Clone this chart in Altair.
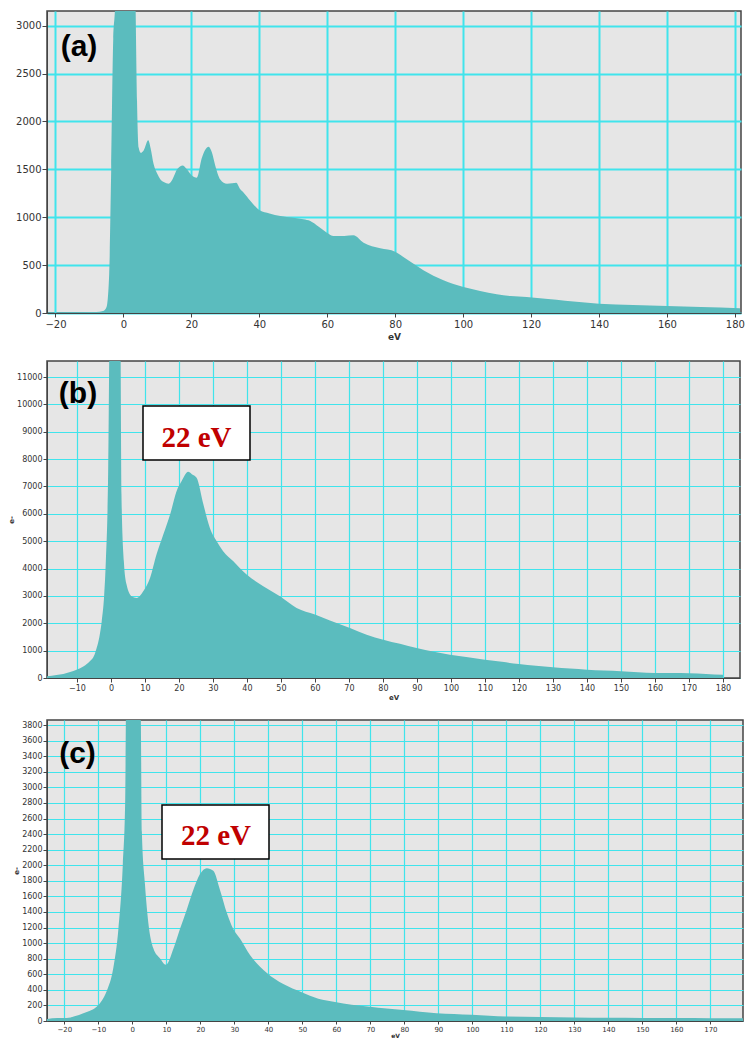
import altair as alt
import pandas as pd

# ---- spectrum (a) ----
ev_a = [-22.5, -16, -12, -8, -6, -5, -4.2, -3.6, -3.0, -2.6, -2.1, 0.5, 3.5, 4.0, 4.5, 5.1,
        6.0, 7.3, 8.0, 8.9, 10.0, 10.9, 12.0, 13.3, 14.5, 15.8, 17.5, 18.7, 20.0, 21.6, 23.1,
        25.1, 26.0, 27.0, 28.5, 30.5, 32.0, 33.2, 34.4, 35.4, 37.4, 40.1, 43.0, 46.2, 50.0,
        53.0, 55.0, 57.5, 59.9, 61.9, 65.0, 67.7, 70.7, 75.6, 80.0, 83.4, 88.3, 94.2, 100.1,
        105.0, 109.9, 114.0, 118.7, 125.0, 130.0, 140.0, 150.0, 160.0, 170.0, 181.5]
counts_a = [0, 5, 8, 10, 20, 60, 400, 1500, 2860, 3100, 3400, 9000, 3400, 2213, 1726, 1673,
            1700, 1803, 1720, 1552, 1450, 1395, 1365, 1350, 1400, 1500, 1541, 1500, 1440, 1412,
            1621, 1736, 1680, 1543, 1395, 1350, 1355, 1360, 1291, 1256, 1169, 1072, 1040, 1013,
            995, 978, 960, 900, 838, 804, 805, 811, 734, 675, 640, 560, 446, 341, 271, 230, 195,
            178, 167, 145, 128, 97, 84, 73, 62, 49]

# ---- spectrum (b) ----
ev_b = [-18.8, -16, -14, -12, -10.1, -8, -6.2, -5, -4.2, -3.4, -2.7, -2.0, -1.5, -0.8, -0.5,
        1.2, 2.85, 3.1, 3.8, 4.6, 6.1, 7.6, 9.5, 11.5, 13.4, 15.4, 17.4, 19.3, 20.8, 22.7, 23.8,
        25.2, 27.2, 29.1, 31.1, 33.0, 36.0, 39.9, 44.8, 49.7, 54.6, 60.0, 64.4, 70.3, 75.2,
        80.1, 85.0, 89.9, 95.0, 99.7, 105, 110, 115, 120, 125, 130, 135, 140, 145, 150, 155,
        160, 165, 170, 175, 180]
counts_b = [62, 110, 150, 220, 305, 430, 610, 800, 1097, 1500, 2073, 3000, 4268, 7680, 11800,
            45000, 11800, 6705, 4268, 3414, 2987, 2926, 3170, 3658, 4511, 5241, 5973, 6829,
            7195, 7535, 7450, 7315, 6339, 5486, 5000, 4634, 4268, 3780, 3353, 2987, 2560, 2317,
            2097, 1829, 1585, 1402, 1250, 1097, 960, 853, 760, 670, 590, 512, 450, 390, 345,
            305, 270, 244, 210, 183, 180, 175, 150, 122]

# ---- spectrum (c) ----
ev_c = [-25.1, -22, -19.3, -17, -14.4, -12, -10.5, -9, -7.5, -5.6, -4.1, -2.8, -2.1, -1.9, 0.3,
        2.5, 2.8, 3.7, 4.7, 6.2, 8.1, 9.9, 12.1, 14.0, 16.0, 17.9, 19.9, 21.9, 23.8, 25.8, 27.8,
        29.7, 31.7, 34.6, 39.5, 44.4, 49.8, 54.7, 59.6, 64.5, 69.9, 74.8, 79.7, 84.6, 89.5,
        94.6, 99.8, 105, 110, 120, 130, 140, 150, 160, 170, 179.6]
counts_c = [25, 40, 37, 60, 100, 140, 183, 260, 390, 682, 1181, 2012, 2843, 3900, 15000, 3900,
            2428, 1762, 1263, 931, 807, 723, 931, 1181, 1430, 1680, 1887, 1962, 1929, 1680,
            1388, 1181, 1056, 848, 620, 474, 370, 287, 245, 210, 183, 160, 141, 120, 100, 90,
            79, 68, 58, 50, 45, 42, 40, 38, 36, 35]

xticks_a = list(range(-20, 181, 20))
yticks_a = list(range(0, 3001, 500))
xticks_b = list(range(-10, 181, 10))
yticks_b = list(range(0, 11001, 1000))
xticks_c = list(range(-20, 171, 10))
yticks_c = list(range(0, 3801, 200))

FILL = "#5bbcbe"
GRID = "#40e4ec"
BG = "#e6e6e6"
AXIS = "#444444"
PEAK_LABEL = "22 eV"


def panel(ev, counts, xdom, ydom, xticks, yticks, width, height, tag, tag_pos,
          big, ytitle=None, box=None, compact=False):
    df = pd.DataFrame({"ev": ev, "counts": counts})
    lab = 10 if big else 8
    grid_w = 2 if big else 1.2
    x_axis = alt.Axis(values=xticks, grid=True, gridColor=GRID, gridWidth=grid_w,
                      tickColor=AXIS, domainColor=AXIS,
                      tickSize=3 if compact else 4, labelPadding=1 if compact else 2,
                      labelFont="DejaVu Sans", labelFontSize=7 if compact else lab,
                      labelColor="#333", format="d",
                      title="eV", titleFont="DejaVu Sans",
                      titleFontSize=9 if big else (6 if compact else 7),
                      titleFontWeight="bold", titleColor="#333",
                      titlePadding=3 if big else (0 if compact else 1), labelOverlap=False)
    y_kwargs = dict(values=yticks, grid=True, gridColor=GRID, gridWidth=grid_w,
                    tickColor=AXIS, domainColor=AXIS, tickSize=5 if big else 4,
                    labelPadding=1, format="d",
                    labelFont="DejaVu Sans", labelFontSize=lab, labelColor="#333",
                    labelOverlap=False)
    if ytitle:
        y_axis = alt.Axis(title=ytitle, titleFont="DejaVu Sans", titleFontSize=7,
                          titleColor="#333", titlePadding=2, **y_kwargs)
    else:
        y_axis = alt.Axis(title=None, **y_kwargs)

    area = alt.Chart(df).mark_area(color=FILL, clip=True, interpolate="monotone").encode(
        x=alt.X("ev:Q", scale=alt.Scale(domain=xdom, nice=False, zero=False), axis=x_axis),
        y=alt.Y("counts:Q", scale=alt.Scale(domain=ydom, nice=False), axis=y_axis),
    )
    layers = [area]

    if box is not None:
        bx0, bx1, by0, by1, tx, ty = box
        one = pd.DataFrame({"t": [PEAK_LABEL]})
        rect = alt.Chart(one).mark_rect(fill="white", stroke="black", strokeWidth=1.5).encode(
            x=alt.value(bx0), x2=alt.value(bx1), y=alt.value(by0), y2=alt.value(by1))
        txt = alt.Chart(one).mark_text(font="Liberation Serif", fontSize=29,
                                       fontWeight="bold", color="#c00000", align="center",
                                       baseline="alphabetic").encode(
            x=alt.value(tx), y=alt.value(ty), text="t:N")
        layers += [rect, txt]

    tag_df = pd.DataFrame({"t": [tag]})
    tag_mark = alt.Chart(tag_df).mark_text(font="Liberation Sans", fontSize=30,
                                           fontWeight="bold", color="black", align="center",
                                           baseline="alphabetic").encode(
        x=alt.value(tag_pos[0]), y=alt.value(tag_pos[1]), text="t:N")
    layers.append(tag_mark)
    return alt.layer(*layers).properties(width=width, height=height)


pa = panel(ev_a, counts_a, [-22.5, 181.8], [0, 3153], xticks_a, yticks_a, 694, 302,
           "(a)", (32, 45), True)
pb = panel(ev_b, counts_b, [-18.8, 185], [0, 11585], xticks_b, yticks_b, 693, 317,
           "(b)", (31, 42), False, ytitle="e-",
           box=(96, 203, 45, 99, 149.5, 86))
pc = panel(ev_c, counts_c, [-25.1, 179.6], [0, 3866], xticks_c, yticks_c, 696, 301,
           "(c)", (30.5, 43), False, ytitle="e-",
           box=(115, 222, 85, 139, 169, 125), compact=True)

chart = alt.vconcat(pa, pb, pc, spacing=18).configure_view(
    fill=BG, stroke=AXIS, strokeWidth=1.5
).properties(padding={"left": 6, "top": 10, "right": 0, "bottom": 0})

chart.save("out.html", embed_options={"renderer": "svg", "actions": False})
